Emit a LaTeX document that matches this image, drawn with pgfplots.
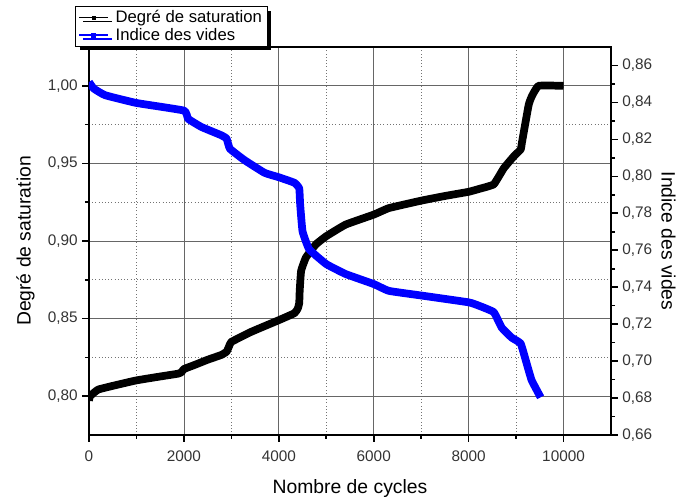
\documentclass[border=0pt]{standalone}
\usepackage{fontspec}
\setmainfont{Liberation Sans}
\usepackage{pgfplots}
\pgfplotsset{compat=1.18}
\usetikzlibrary{shadows}

\pgfplotsset{
  base/.style={
    width=391.5pt, height=291pt, scale only axis,
    xmin=0, xmax=11000,
    axis line style={line width=1.5pt},
    major tick length=5pt, minor tick length=3pt,
    every tick/.style={black, line width=1.2pt},
    tick align=outside,
    tick label style={font=\fontsize{11.5}{13}\selectfont, text=black!80},
    label style={font=\fontsize{14.5}{16}\selectfont},
    /pgf/number format/assume math mode=true,
  },
  commay/.style={
    y tick label style={/pgf/number format/.cd, use comma, fixed, fixed zerofill, precision=2},
  },
}

\begin{document}
\begin{tikzpicture}
% axe gauche : degre de saturation
\begin{axis}[base, commay, name=ax,
  ymin=0.775, ymax=1.025,
  xtick={0,2000,4000,6000,8000,10000}, minor x tick num=1,
  scaled x ticks=false,
  ytick={0.80,0.85,0.90,0.95,1.00}, minor y tick num=1,
  xtick pos=bottom, ytick pos=left,
  x tick label style={/pgf/number format/1000 sep={}, yshift=-3pt},
  grid=both,
  major grid style={black!60, line width=0.6pt},
  minor grid style={black!55, dotted, line width=0.6pt},
  xlabel={Nombre de cycles}, ylabel={Degré de saturation},
  xlabel style={yshift=-7pt}, ylabel style={yshift=3pt},
]
\addplot[black, line width=5.8pt, line join=round, smooth, tension=0.2] coordinates {
  (0,0.797) (20,0.800) (196,0.8043) (616,0.8075) (1000,0.8102)
  (1500,0.8127) (1876,0.8145) (1950,0.8155) (2000,0.8175) (2230,0.8202)
  (2500,0.8235) (2790,0.8266) (2900,0.8287) (2950,0.8320) (3000,0.835)
  (3420,0.8415) (4000,0.849) (4330,0.8535) (4400,0.8565) (4430,0.8600)
  (4440,0.8680) (4470,0.8808) (4570,0.8893) (4780,0.8978) (5000,0.9031)
  (5410,0.9106) (6000,0.917) (6320,0.9212) (7000,0.926) (7500,0.929)
  (8000,0.9317) (8214,0.9335) (8529,0.9365) (8739,0.9468) (8950,0.9545)
  (9097,0.959) (9124,0.9636) (9265,0.9877) (9335,0.9935) (9475,1.0)
  (10000,1.0)
};
\end{axis}
% axe droit : indice des vides
\begin{axis}[base, commay,
  ymin=0.66, ymax=0.87,
  hide x axis, axis y line*=right,
  ytick={0.66,0.68,0.70,0.72,0.74,0.76,0.78,0.80,0.82,0.84,0.86}, minor y tick num=1,
  ylabel={Indice des vides}, ylabel style={rotate=180},
  legend cell align=left,
  legend image code/.code={\draw[mark repeat=2,mark phase=2,#1] plot coordinates {(0cm,0cm) (0.38cm,0cm) (0.76cm,0cm)}; \path (0.86cm,0cm);},
  legend style={at={(axis description cs:0,1)}, anchor=north west,
    xshift=-10.5pt, yshift=30.75pt, draw=black, line width=0.8pt, fill=white,
    font=\fontsize{12.5}{14}\selectfont, inner xsep=2pt, inner ysep=1pt,
    row sep=-1.5pt,
    drop shadow={shadow xshift=3pt, shadow yshift=-3pt, fill=black, opacity=1}},
]
\addlegendimage{black, line width=0.6pt, mark=square*, mark size=1.2pt}
\addlegendentry{Degré de saturation}
\addlegendimage{blue, line width=1.6pt, mark=square*, mark size=1.2pt}
\addlegendentry{Indice des vides}
\addplot[blue, line width=5.8pt, line join=round, smooth, tension=0.2, forget plot] coordinates {
  (0,0.851) (100,0.8475) (340,0.8439) (1000,0.8397) (2000,0.8356)
  (2090,0.8311) (2370,0.8267) (2790,0.8222) (2900,0.8204) (2970,0.8149)
  (3280,0.8087) (3700,0.8019) (4000,0.7995) (4330,0.7965) (4430,0.7935)
  (4450,0.7847) (4500,0.7702) (4640,0.7605) (5000,0.7525) (5410,0.7471)
  (6000,0.7417) (6320,0.7380) (7000,0.7355) (8000,0.7318) (8214,0.7300)
  (8529,0.7265) (8697,0.7181) (8907,0.7127) (9097,0.7095) (9223,0.6987)
  (9328,0.6896) (9517,0.6804)
};
\end{axis}
\path ([xshift=-66.75pt,yshift=-46.5pt]ax.south west) rectangle ([xshift=52.5pt,yshift=35.25pt]ax.north east);
\end{tikzpicture}
\end{document}
